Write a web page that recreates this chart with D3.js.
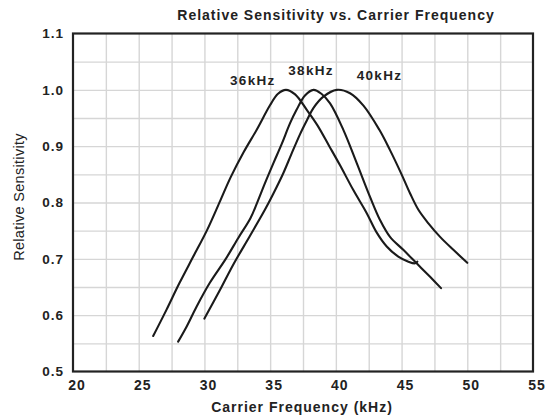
<!DOCTYPE html>
<html>
<head>
<meta charset="utf-8">
<script src="https://cdn.jsdelivr.net/npm/d3@7"></script>
<style>
  html, body { margin: 0; padding: 0; background: #fff; }
  svg { display: block; }
  text { font-family: "Liberation Sans", Arial, sans-serif; fill: #222; }
</style>
</head>
<body>
<svg id="chart" width="547" height="418"></svg>
<script>
// ---- data ----
const title = "Relative Sensitivity vs. Carrier Frequency";
const xTitle = "Carrier Frequency (kHz)";
const yTitle = "Relative Sensitivity";
const xTicks = [20, 25, 30, 35, 40, 45, 50, 55];
const yTicks = [0.5, 0.6, 0.7, 0.8, 0.9, 1.0, 1.1];
const xGrid = [22.5, 25, 27.5, 30, 32.5, 35, 37.5, 40, 42.5, 45, 47.5, 50, 52.5];
const yGrid = [0.55, 0.6, 0.65, 0.7, 0.75, 0.8, 0.85, 0.9, 0.95, 1.0, 1.05];

const seriesNames = ["36kHz", "38kHz", "40kHz"];
const freq36 = [26.1, 27.1, 28.1, 29.15, 30.2, 31.2, 32.0, 33.0, 34.0, 35.0, 35.6, 36.2, 36.9, 37.8, 38.6, 39.5, 40.32, 41.33, 42.35, 43.1, 43.87, 44.75, 45.52, 46.03, 46.2];
const sens36 = [0.563, 0.609, 0.657, 0.704, 0.751, 0.803, 0.845, 0.890, 0.930, 0.973, 0.993, 1.0, 0.992, 0.964, 0.937, 0.900, 0.866, 0.822, 0.781, 0.747, 0.722, 0.704, 0.695, 0.692, 0.695];
const freq38 = [28.0, 28.65, 29.4, 30.4, 31.6, 32.6, 33.5, 34.0, 34.6, 35.25, 35.9, 36.5, 37.0, 37.65, 38.3, 38.9, 39.56, 40.57, 41.59, 42.6, 43.36, 44.12, 45.13, 46.15, 47.17, 48.0];
const sens38 = [0.553, 0.580, 0.615, 0.657, 0.699, 0.738, 0.772, 0.799, 0.834, 0.870, 0.905, 0.940, 0.964, 0.990, 1.0, 0.993, 0.976, 0.929, 0.870, 0.810, 0.769, 0.739, 0.716, 0.692, 0.668, 0.648];
const freq40 = [30.0, 31.19, 32.2, 33.47, 34.6, 35.25, 36.0, 36.6, 37.27, 37.8, 38.3, 39.05, 40.07, 41.08, 42.1, 43.31, 44.12, 45.0, 45.65, 46.28, 47.04, 47.93, 48.94, 50.0];
const sens40 = [0.594, 0.645, 0.690, 0.741, 0.787, 0.816, 0.852, 0.885, 0.921, 0.946, 0.968, 0.988, 1.0, 0.994, 0.972, 0.929, 0.893, 0.850, 0.816, 0.787, 0.763, 0.739, 0.716, 0.693];
// label anchors in data units
const labelFreq = [31.95, 36.38, 41.59];
const labelSens = [1.0086, 1.0264, 1.0175];

// ---- layout ----
const svg = d3.select("#chart");
const L = 73, R = 533, T = 33.5, B = 371.5;
const x = d3.scaleLinear().domain([20, 55]).range([L, R]);
const y = d3.scaleLinear().domain([0.5, 1.1]).range([B, T]);

// grid
const gridColor = "#d6d6d6";
const gx = svg.append("g").attr("transform", `translate(0,${B})`)
  .call(d3.axisBottom(x).tickValues(xGrid).tickSize(-(B - T)).tickFormat(""));
gx.select(".domain").remove();
gx.selectAll("line").attr("stroke", gridColor).attr("stroke-width", 1.4);
const gy = svg.append("g").attr("transform", `translate(${L},0)`)
  .call(d3.axisLeft(y).tickValues(yGrid).tickSize(-(R - L)).tickFormat(""));
gy.select(".domain").remove();
gy.selectAll("line").attr("stroke", gridColor).attr("stroke-width", 1.4);

// tick labels
const ax = svg.append("g").attr("transform", `translate(0,${B})`)
  .call(d3.axisBottom(x).tickValues(xTicks).tickSize(0).tickPadding(9).tickFormat(d3.format("d")));
ax.select(".domain").remove();
ax.selectAll("text").attr("font-size", 14).attr("font-weight", "bold")
  .attr("font-family", "Liberation Sans, Arial, sans-serif").attr("fill", "#222")
  .style("letter-spacing", "1px").attr("dx", 3.5);

const ay = svg.append("g").attr("transform", `translate(${L},0)`)
  .call(d3.axisLeft(y).tickValues(yTicks).tickSize(0).tickPadding(9).tickFormat(d3.format(".1f")));
ay.select(".domain").remove();
ay.selectAll("text").attr("font-size", 13.5).attr("font-weight", "bold")
  .attr("font-family", "Liberation Sans, Arial, sans-serif").attr("fill", "#222")
  .style("letter-spacing", "1px");

// curves
const line = d3.line().x(d => x(d[0])).y(d => y(d[1])).curve(d3.curveCatmullRom.alpha(0.5));
const series = [
  d3.zip(freq36, sens36),
  d3.zip(freq38, sens38),
  d3.zip(freq40, sens40)
];
svg.append("g").selectAll("path").data(series).join("path")
  .attr("d", line).attr("fill", "none").attr("stroke", "#1a1a1a")
  .attr("stroke-width", 2.1).attr("stroke-linejoin", "round").attr("stroke-linecap", "round");

// border
svg.append("rect").attr("x", L).attr("y", T).attr("width", R - L).attr("height", B - T)
  .attr("fill", "none").attr("stroke", "#222").attr("stroke-width", 2.2);

// series labels
svg.append("g").selectAll("text").data(seriesNames).join("text")
  .attr("x", (d, i) => x(labelFreq[i])).attr("y", (d, i) => y(labelSens[i]))
  .attr("font-size", 13.5).attr("font-weight", "bold").style("letter-spacing", "1.3px")
  .text(d => d);

// titles
svg.append("text").attr("x", 336).attr("y", 20).attr("text-anchor", "middle")
  .attr("font-size", 14).attr("font-weight", "bold").style("letter-spacing", "1px")
  .text(title);
svg.append("text").attr("x", 302).attr("y", 412).attr("text-anchor", "middle")
  .attr("font-size", 14).attr("font-weight", "bold").style("letter-spacing", "1px")
  .text(xTitle);
svg.append("text").attr("transform", "translate(24,197) rotate(-90)").attr("text-anchor", "middle")
  .attr("font-size", 14.5).style("letter-spacing", "0.3px")
  .text(yTitle);
</script>
</body>
</html>
